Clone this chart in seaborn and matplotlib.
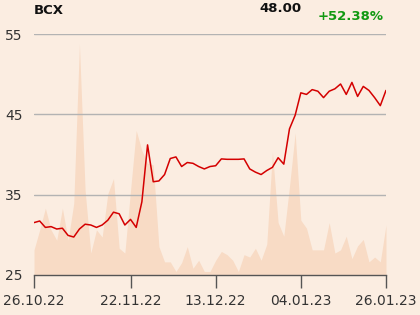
import matplotlib
matplotlib.use("Agg")
import matplotlib.pyplot as plt
import seaborn as sns
import pandas as pd
import numpy as np

# ---- data ----
price = [31.5, 31.7, 30.9, 31.0, 30.7, 30.8, 29.9, 29.7, 30.7, 31.3,
         31.2, 30.9, 31.2, 31.8, 32.8, 32.6, 31.2, 31.9, 30.9, 34.1,
         41.2, 36.6, 36.7, 37.5, 39.5, 39.7, 38.5, 39.0, 38.9, 38.5,
         38.2, 38.5, 38.6, 39.45, 39.4, 39.4, 39.4, 39.45, 38.2, 37.8,
         37.5, 38.0, 38.4, 39.6, 38.8, 43.2, 44.9, 47.7, 47.5, 48.1,
         47.9, 47.1, 47.9, 48.2, 48.8, 47.5, 49.0, 47.25, 48.5, 48.0,
         47.1, 46.1, 48.0]
volume = [28.1, 30.6, 33.3, 30.6, 29.3, 33.3, 29.3, 33.9, 53.8, 35.5,
          27.7, 30.6, 29.7, 35.1, 37.0, 28.3, 27.7, 35.5, 43.0, 40.5,
          38.9, 38.7, 28.5, 26.6, 26.6, 25.4, 26.5, 28.5, 25.8, 26.8,
          25.4, 25.4, 26.8, 27.9, 27.5, 26.8, 25.4, 27.5, 27.2, 28.3,
          26.8, 28.8, 40.3, 31.5, 29.8, 36.0, 42.7, 31.8, 30.8, 28.1,
          28.1, 28.1, 31.5, 27.7, 28.1, 29.8, 27.0, 28.6, 29.4, 26.6,
          27.2, 26.6, 31.2]
tick_idx = [0, 17, 32, 47, 62]
tick_labels = ["26.10.22", "22.11.22", "13.12.22", "04.01.23", "26.01.23"]
y_ticks = [25, 35, 45, 55]
title = "BCX"
last_value = "48.00"
change = "+52.38%"

df = pd.DataFrame({"i": np.arange(len(price)), "price": price, "volume": volume})

bg = "#fbede1"
sns.set_theme(style="white")
plt.rcParams["font.family"] = ["DejaVu Sans"]

fig = plt.figure(figsize=(4.2, 3.15), dpi=100, facecolor=bg)
ax = fig.add_axes([0.081, 0.128, 0.838, 0.763])
ax.set_facecolor(bg)

ax.fill_between(df["i"], 25, df["volume"], color="#f8dbc5", linewidth=0, zorder=1)
for yv in y_ticks[1:]:
    ax.axhline(yv, color="#b3b3b3", linewidth=1.0, zorder=2)
sns.lineplot(data=df, x="i", y="price", ax=ax, color="#d40000", linewidth=1.1, zorder=3)

ax.set_xlim(0, len(price) - 1)
ax.set_ylim(25, 55)
ax.set_xticks(tick_idx)
ax.set_xticklabels(tick_labels)
ax.set_yticks(y_ticks)
ax.set_yticklabels([str(v) for v in y_ticks])
ax.set_xlabel("")
ax.set_ylabel("")
for s in ["left", "right", "top"]:
    ax.spines[s].set_visible(False)
ax.spines["bottom"].set_color("#555555")
ax.spines["bottom"].set_linewidth(1.0)
ax.tick_params(axis="x", which="major", bottom=True, length=9, width=1.0,
               color="#555555", labelsize=10, labelcolor="#333333", pad=5)
ax.tick_params(axis="y", which="major", left=False, length=0, labelsize=10,
               labelcolor="#333333", pad=8)

fig.text(0.081, 0.967, title, fontsize=9.5, fontweight="bold", color="#111111",
         ha="left", va="center")
fig.text(0.719, 0.973, last_value, fontsize=9.5, fontweight="bold", color="#111111",
         ha="right", va="center")
fig.text(0.914, 0.948, change, fontsize=9.5, fontweight="bold", color="#119911",
         ha="right", va="center")

fig.savefig("out.png", dpi=100, facecolor=bg)
